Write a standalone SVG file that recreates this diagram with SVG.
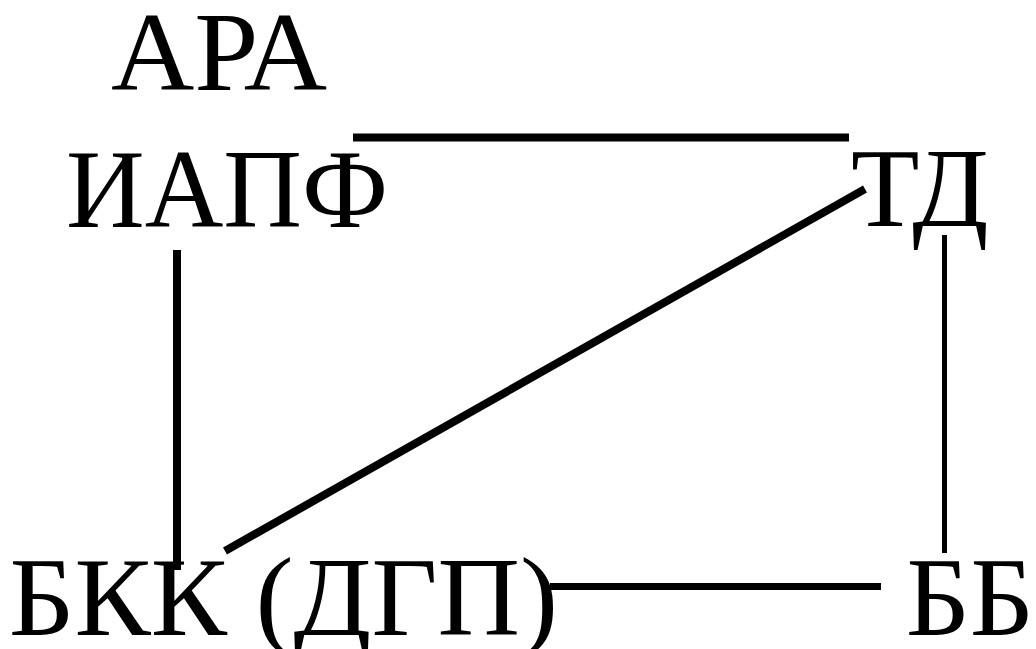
<svg xmlns="http://www.w3.org/2000/svg" width="1036" height="649" viewBox="0 0 1036 649">
<style>
text{font-family:"Liberation Serif","Times New Roman",serif;font-size:112px;fill:#000}
.e{stroke:#000;stroke-linecap:butt;fill:none}
</style>
<rect width="1036" height="649" fill="#fff"/>
<g id="connectors">
<line class="e" x1="353" y1="137.5" x2="849" y2="137.5" stroke-width="8"/>
<line class="e" x1="865" y1="189" x2="225" y2="551" stroke-width="8"/>
<line class="e" x1="177" y1="250" x2="177" y2="570" stroke-width="8"/>
<line class="e" x1="944.5" y1="235" x2="944.5" y2="553" stroke-width="5"/>
<line class="e" x1="550" y1="586.5" x2="881" y2="586.5" stroke-width="7"/>
</g>
<g id="ara"><text x="111" y="90" textLength="216" lengthAdjust="spacingAndGlyphs">АРА</text></g>
<g id="iapf"><text x="66" y="227" textLength="322" lengthAdjust="spacingAndGlyphs">ИАПФ</text></g>
<g id="td"><text x="851" y="226">ТД</text></g>
<g id="bkk"><text x="9" y="635" textLength="549" lengthAdjust="spacingAndGlyphs">БКК (ДГП)</text></g>
<g id="bb"><text x="906" y="635" textLength="128" lengthAdjust="spacingAndGlyphs">ББ</text></g>
</svg>
